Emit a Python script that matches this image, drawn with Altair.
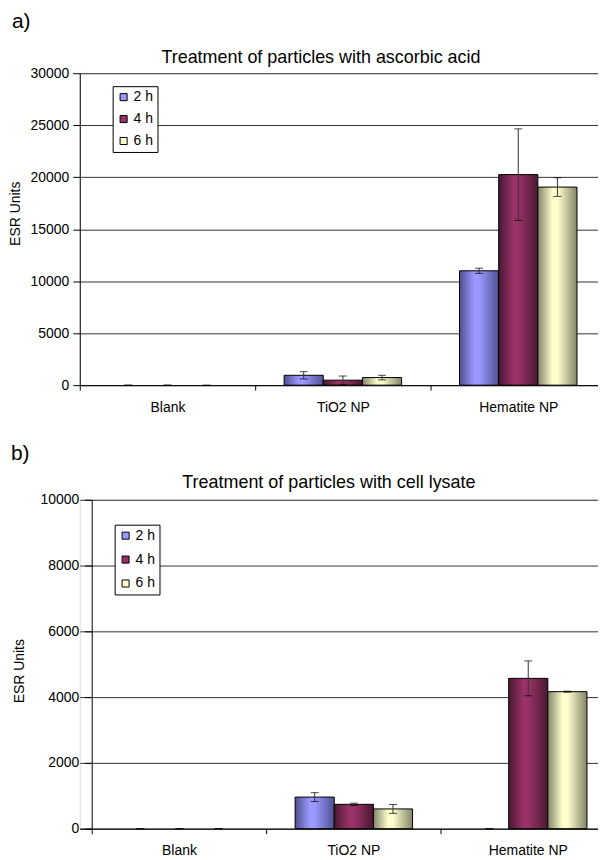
import altair as alt
import pandas as pd

FONT = "Liberation Sans"

categories = ["Blank", "TiO2 NP", "Hematite NP"]
series = ["2 h", "4 h", "6 h"]

# Panel a: ascorbic acid
a_2h = [0, 950, 11000]
a_4h = [0, 480, 20250]
a_6h = [0, 730, 19050]
a_2h_err = [0, 350, 250]
a_4h_err = [0, 400, 4400]
a_6h_err = [0, 220, 900]

# Panel b: cell lysate
b_2h = [0, 960, 0]
b_4h = [0, 740, 4570]
b_6h = [0, 600, 4165]
b_2h_err = [0, 135, 0]
b_4h_err = [0, 35, 530]
b_6h_err = [0, 135, 15]

flat_colors = ["#9999FF", "#993366", "#FFFFCC"]
dark_colors = ["#4F5190", "#4A1832", "#84846A"]


def make_df(vals, errs):
    rows = []
    for s, v_list, e_list in zip(series, vals, errs):
        for c, v, e in zip(categories, v_list, e_list):
            rows.append({"cat": c, "series": s, "v": v, "lo": max(v - e, 0), "hi": v + e})
    return pd.DataFrame(rows)


def gradient(light, dark):
    return alt.LinearGradient(
        gradient="linear",
        x1=0, x2=1, y1=0, y2=0,
        stops=[
            alt.GradientStop(color=dark, offset=0),
            alt.GradientStop(color=light, offset=0.38),
            alt.GradientStop(color=light, offset=0.5),
            alt.GradientStop(color=dark, offset=1),
        ],
    )


def label(text, x, y, size, angle=0, align="left"):
    return alt.Chart(pd.DataFrame({"t": [text]})).mark_text(
        font=FONT, fontSize=size, align=align, baseline="alphabetic", color="black", angle=angle
    ).encode(x=alt.value(x), y=alt.value(y), text="t:N")


def panel(df, title, tag, ymax, ystep, width, height, x_pad_outer, y_offset, y_label_pad,
          lx, ly, row_pad, tag_x, tag_y, title_x, title_y, ytitle_x, ytitle_y):
    x_axis = alt.Axis(title=None, labelAngle=0, tickBand="extent", domainColor="black",
                      tickColor="black", tickSize=5, labelPadding=10, labelFontSize=14,
                      labelColor="black", labelFont=FONT, grid=False)
    y_axis = alt.Axis(title=None, values=list(range(0, ymax + 1, ystep)), format="d",
                      grid=True, gridColor="#333333", domainColor="black", tickColor="black",
                      tickSize=7, labelPadding=y_label_pad, labelFontSize=14, labelColor="black",
                      labelFont=FONT, offset=y_offset)
    x = alt.X("cat:N", sort=categories,
              scale=alt.Scale(paddingInner=0, paddingOuter=x_pad_outer, align=1), axis=x_axis)
    xo = alt.XOffset("series:N", sort=series, scale=alt.Scale(paddingInner=0, paddingOuter=0.74))
    yscale = alt.Scale(domain=[0, ymax], nice=False)

    base = alt.Chart(df)
    layers = []
    for s, light, dark in zip(series, flat_colors, dark_colors):
        layers.append(
            base.transform_filter(f"datum.series == '{s}' && datum.v > 0")
            .mark_bar(color=gradient(light, dark), stroke="black", strokeWidth=1)
            .encode(x=x, xOffset=xo, y=alt.Y("v:Q", scale=yscale, axis=y_axis))
        )
    legend = alt.Legend(title=None, orient="none", legendX=lx, legendY=ly, strokeColor="black",
                        fillColor="white", padding=4, symbolType="square", symbolSize=50,
                        symbolStrokeColor="black", symbolStrokeWidth=1, symbolOpacity=1,
                        labelFontSize=14, labelFont=FONT, labelColor="black", rowPadding=row_pad,
                        labelOffset=3, cornerRadius=0)
    layers.append(
        base.mark_square(opacity=0).encode(
            x=x, xOffset=xo, y=alt.Y("v:Q", scale=yscale, axis=y_axis),
            color=alt.Color("series:N", sort=series,
                            scale=alt.Scale(domain=series, range=flat_colors), legend=legend),
        )
    )
    layers.append(
        base.mark_rule(color="#333333", strokeWidth=1).encode(
            x=x, xOffset=xo, y=alt.Y("lo:Q", scale=yscale, axis=y_axis), y2="hi:Q")
    )
    for f in ["lo", "hi"]:
        layers.append(
            base.mark_tick(color="black", size=8, thickness=1, orient="horizontal").encode(
                x=x, xOffset=xo, y=alt.Y(f"{f}:Q", scale=yscale, axis=y_axis))
        )
    layers.append(label(tag, tag_x, tag_y, 21))
    layers.append(label(title, title_x, title_y, 18, align="center"))
    layers.append(label("ESR Units", ytitle_x, ytitle_y, 14, angle=270, align="center"))
    return alt.layer(*layers).properties(width=width, height=height)


chart_a = panel(make_df([a_2h, a_4h, a_6h], [a_2h_err, a_4h_err, a_6h_err]),
                "Treatment of particles with ascorbic acid", "a)", 30000, 5000,
                528, 313, 0, 0, 4,
                33, 13, 8, -68, -45, 242, -10, -60, 141)
chart_b = panel(make_df([b_2h, b_4h, b_6h], [b_2h_err, b_4h_err, b_6h_err]),
                "Treatment of particles with cell lysate", "b)", 10000, 2000,
                537, 330, 0.0343, -12, 6,
                35, 25, 10, -69, -40, 250, -12, -56, 172)

chart = alt.concat(chart_a, chart_b, columns=1, spacing=27).resolve_scale(
    color="independent"
).resolve_legend(color="independent").properties(
    padding={"left": 0, "top": 1, "right": -18, "bottom": 0}
).configure_view(strokeWidth=0).configure(background="white")

chart.save("out.html", embed_options={"renderer": "svg", "actions": False})
